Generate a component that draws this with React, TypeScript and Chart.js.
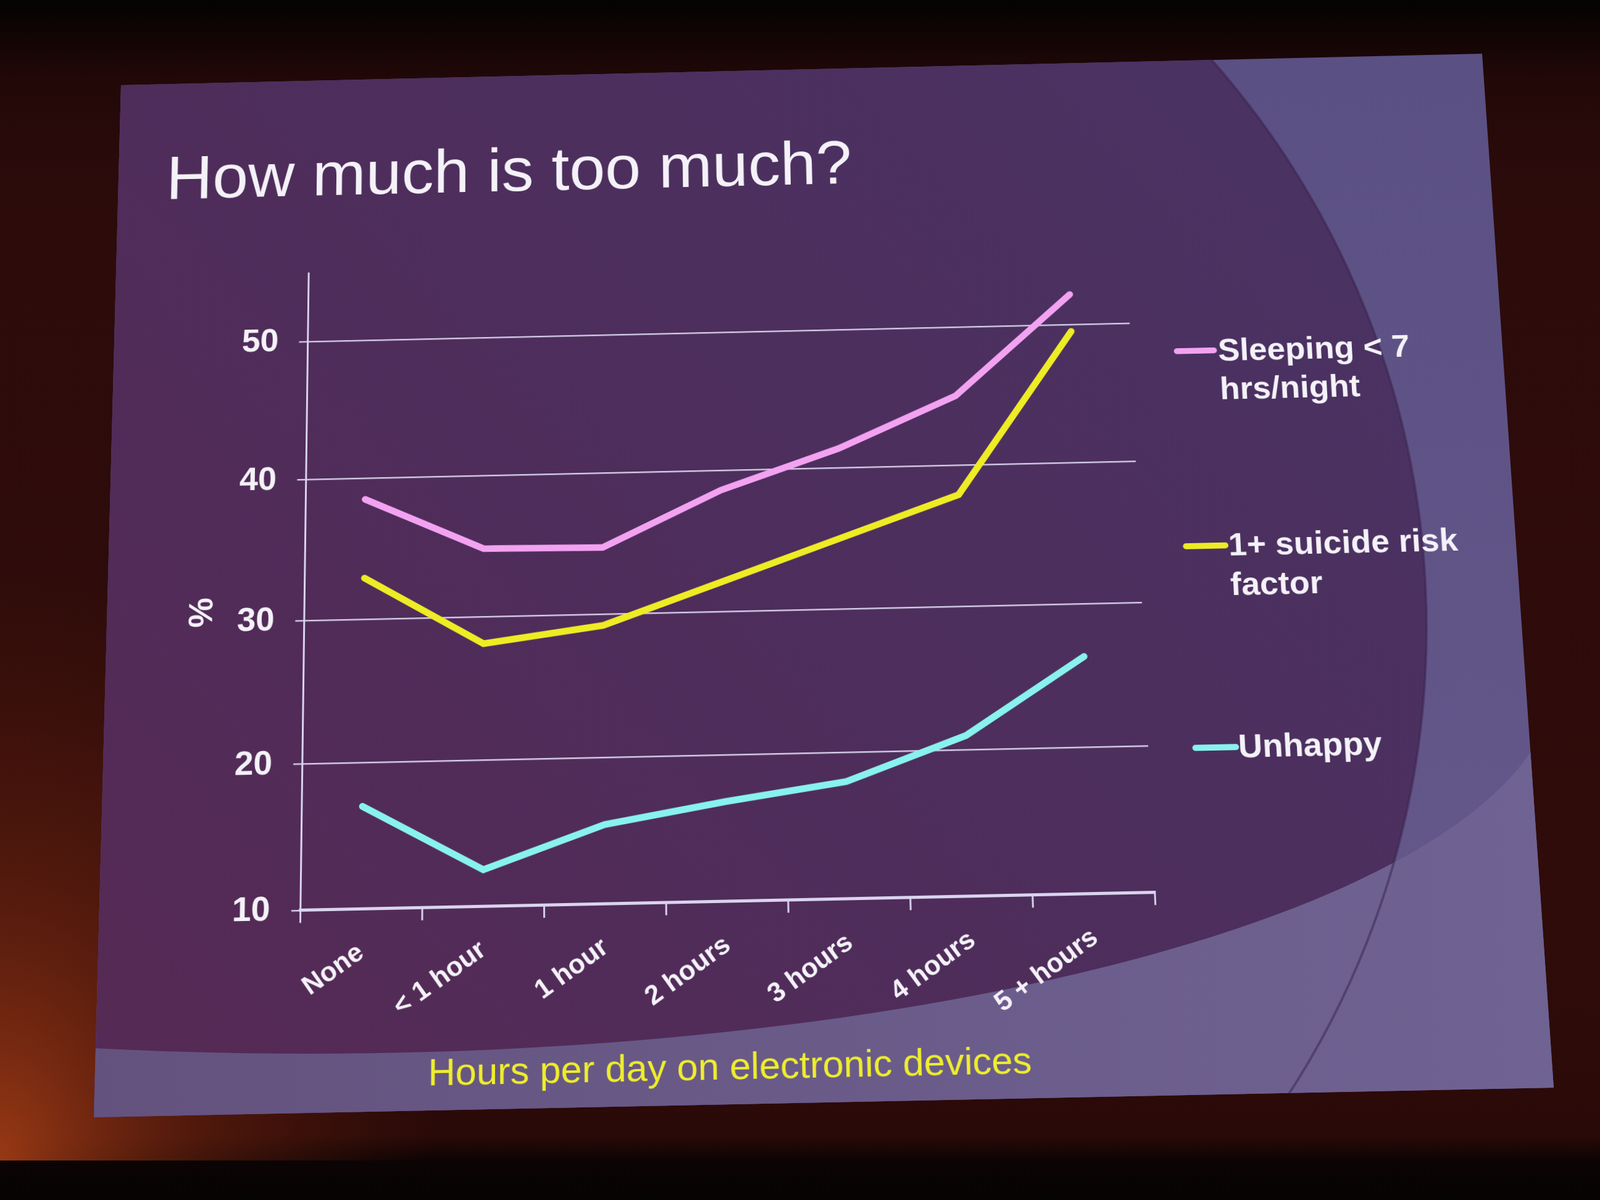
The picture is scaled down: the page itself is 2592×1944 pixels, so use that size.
import React, { useEffect, useRef } from 'react';
import { Chart, registerables } from 'chart.js';

Chart.register(...registerables);

// ---------- data ----------
const categories = ['None', '< 1 hour', '1 hour', '2 hours', '3 hours', '4 hours', '5 + hours'];
const sleepingValues = [38.5, 34.8, 34.7, 38.6, 41.4, 45.0, 52.2];
const suicideRiskValues = [32.9, 28.1, 29.2, 32.1, 35.0, 37.9, 49.5];
const unhappyValues = [17.0, 12.5, 15.4, 16.8, 18.0, 21.0, 26.3];
const yTickValues = [10, 20, 30, 40, 50];
const seriesNames = ['Sleeping < 7 hrs/night', '1+ suicide risk factor', 'Unhappy'];
const legendLines = [['Sleeping < 7', 'hrs/night'], ['1+ suicide risk', 'factor'], ['Unhappy']];
const titleText = 'How much is too much?';
const xTitleText = 'Hours per day on electronic devices';
const yTitleText = '%';

// ---------- styles / geometry ----------
const FONT = "'Liberation Sans', Arial, Helvetica, sans-serif";
const seriesColors = ['#f3a2f2', '#eeec24', '#88f2ee'];
const textWhite = '#f4f2f8';
const gridColor = '#d4cde8';

const PAGE_W = 2592;
const PAGE_H = 1944;
const FLAT_W = 2300;
const FLAT_H = 1725;

type Pt = [number, number];

// photographed slide corners (TL, TR, BR, BL)
const photoCorners: Pt[] = [[196, 138], [2401, 87], [2517, 1762], [152, 1810]];
const flatCorners: Pt[] = [[0, 0], [FLAT_W, 0], [FLAT_W, FLAT_H], [0, FLAT_H]];

function solveLinear(A: number[][], b: number[]): number[] {
  const n = b.length;
  const M = A.map((row, i) => [...row, b[i]]);
  for (let c = 0; c < n; c++) {
    let p = c;
    for (let r = c + 1; r < n; r++) if (Math.abs(M[r][c]) > Math.abs(M[p][c])) p = r;
    const tmp = M[c];
    M[c] = M[p];
    M[p] = tmp;
    for (let r = 0; r < n; r++) {
      if (r === c) continue;
      const f = M[r][c] / M[c][c];
      for (let k = c; k <= n; k++) M[r][k] -= f * M[c][k];
    }
  }
  return M.map((row, i) => row[n] / row[i]);
}

function homography(src: Pt[], dst: Pt[]): number[] {
  const A: number[][] = [];
  const b: number[] = [];
  for (let i = 0; i < 4; i++) {
    const [x, y] = src[i];
    const [u, v] = dst[i];
    A.push([x, y, 1, 0, 0, 0, -x * u, -y * u]);
    b.push(u);
    A.push([0, 0, 0, x, y, 1, -x * v, -y * v]);
    b.push(v);
  }
  return solveLinear(A, b);
}

function applyH(h: number[], x: number, y: number): Pt {
  const w = h[6] * x + h[7] * y + 1;
  return [(h[0] * x + h[1] * y + h[2]) / w, (h[3] * x + h[4] * y + h[5]) / w];
}

const H_FLAT_TO_PHOTO = homography(flatCorners, photoCorners);
const H_PHOTO_TO_FLAT = homography(photoCorners, flatCorners);
const toFlat = (x: number, y: number) => applyH(H_PHOTO_TO_FLAT, x, y);

const hm = H_FLAT_TO_PHOTO;
const matrix3d = `matrix3d(${hm[0]},${hm[3]},0,${hm[6]},${hm[1]},${hm[4]},0,${hm[7]},0,0,1,0,${hm[2]},${hm[5]},0,1)`;

// anchor points measured on the photograph (page px)
const axisOrigin = toFlat(487, 1481);
const axis50 = toFlat(498, 554);
const axisRightEnd = toFlat(1871, 1457);
const yTitleCenter = toFlat(325, 992);
const xTitleCenter = toFlat(1195, 1737);
const titleBaseLeft = toFlat(277, 322);

const Y_MIN = 10;
const Y_MAX = 55;
const areaLeft = axisOrigin[0];
const areaBottom = axisOrigin[1];
const pxPerUnit = (areaBottom - axis50[1]) / 40;
const areaTop = areaBottom - (Y_MAX - Y_MIN) * pxPerUnit;
const areaRight = axisRightEnd[0];

const Y_TITLE_SIZE = 56;
const yScaleLeft = yTitleCenter[0] - 40;
const yScaleWidth = areaLeft - yScaleLeft;

const X_TITLE_SIZE = 60;
const X_TITLE_PAD = 20;
const xScaleHeight = xTitleCenter[1] - areaBottom + (X_TITLE_SIZE * 1.2) / 2 + X_TITLE_PAD;
const padBottom = Math.max(0, FLAT_H - areaBottom - xScaleHeight);

const TITLE_SIZE = 108;
const LEGEND_SIZE = 54;
const LEGEND_LH = 66;

// legend anchors on the photograph: swatch start, swatch end, text baseline-left
const legendAnchors: { sw0: Pt; sw1: Pt; txt: Pt }[] = [
  { sw0: [1902, 569], sw1: [1972, 569], txt: [1976, 584] },
  { sw0: [1917, 885], sw1: [1990, 885], txt: [1993, 900] },
  { sw0: [1932, 1212], sw1: [2007, 1212], txt: [2009, 1227] },
];

function drawBackground(ctx: CanvasRenderingContext2D) {
  // surroundings of the projected slide
  const g = ctx.createLinearGradient(0, 0, 0, PAGE_H);
  g.addColorStop(0, '#040202');
  g.addColorStop(40 / PAGE_H, '#0d0404');
  g.addColorStop(130 / PAGE_H, '#230808');
  g.addColorStop(300 / PAGE_H, '#2c0b0b');
  g.addColorStop(1500 / PAGE_H, '#2f0c0a');
  g.addColorStop(1840 / PAGE_H, '#2a0a08');
  g.addColorStop(1880 / PAGE_H, '#0c0404');
  g.addColorStop(1, '#050303');
  ctx.fillStyle = g;
  ctx.fillRect(0, 0, PAGE_W, PAGE_H);

  ctx.save();
  ctx.translate(0, 1880);
  ctx.scale(1, 1.4);
  const glow = ctx.createRadialGradient(0, 0, 0, 0, 0, 700);
  glow.addColorStop(0, 'rgba(165,62,22,0.9)');
  glow.addColorStop(0.45, 'rgba(120,40,16,0.5)');
  glow.addColorStop(1, 'rgba(90,25,10,0)');
  ctx.fillStyle = glow;
  ctx.fillRect(0, -1400, 800, 1400);
  ctx.restore();

  // slide
  ctx.save();
  ctx.beginPath();
  photoCorners.forEach(([x, y], i) => (i === 0 ? ctx.moveTo(x, y) : ctx.lineTo(x, y)));
  ctx.closePath();
  ctx.clip();

  const base = ctx.createLinearGradient(0, 100, 0, 1800);
  base.addColorStop(0, '#5b5083');
  base.addColorStop(1, '#66598c');
  ctx.fillStyle = base;
  ctx.fillRect(0, 0, PAGE_W, PAGE_H);

  // dark main disc
  const dark = ctx.createLinearGradient(250, 1700, 1900, 150);
  dark.addColorStop(0, '#552a55');
  dark.addColorStop(0.5, '#4e2d5b');
  dark.addColorStop(1, '#4a3262');
  ctx.fillStyle = dark;
  ctx.beginPath();
  ctx.arc(921, 1017, 1390, 0, Math.PI * 2);
  ctx.fill();

  // lighter band at the bottom
  const cx = 500, cy = 1097, rx = 2020, ry = 610;
  const band = ctx.createLinearGradient(150, 0, 2520, 0);
  band.addColorStop(0, '#64527e');
  band.addColorStop(1, '#6f6393');
  ctx.fillStyle = band;
  ctx.beginPath();
  ctx.moveTo(cx - rx, cy);
  ctx.ellipse(cx, cy, rx, ry, 0, Math.PI, 0, true);
  ctx.lineTo(cx + rx, PAGE_H + 50);
  ctx.lineTo(cx - rx, PAGE_H + 50);
  ctx.closePath();
  ctx.fill();

  // faint arc edge
  ctx.strokeStyle = 'rgba(58,34,78,0.5)';
  ctx.lineWidth = 4;
  ctx.beginPath();
  ctx.arc(921, 1017, 1390, -Math.PI / 2, Math.PI / 2);
  ctx.stroke();
  ctx.restore();
}

export default function App() {
  const bgRef = useRef<HTMLCanvasElement | null>(null);
  const canvasRef = useRef<HTMLCanvasElement | null>(null);

  useEffect(() => {
    const bg = bgRef.current;
    if (bg) {
      const ctx = bg.getContext('2d');
      if (ctx) drawBackground(ctx);
    }
    const canvas = canvasRef.current;
    if (!canvas) return;
    const seriesData = [sleepingValues, suicideRiskValues, unhappyValues];
    const chart = new Chart(canvas, {
      type: 'line',
      data: {
        labels: categories,
        datasets: seriesData.map((d, i) => ({
          label: seriesNames[i],
          data: d,
          borderColor: seriesColors[i],
          backgroundColor: seriesColors[i],
          borderWidth: 11,
          pointRadius: 0,
          tension: 0,
          borderJoinStyle: 'miter' as const,
          borderCapStyle: 'round' as const,
          fill: false,
        })),
      },
      options: {
        animation: false,
        responsive: false,
        maintainAspectRatio: false,
        devicePixelRatio: 1,
        layout: {
          padding: {
            left: yScaleLeft,
            right: FLAT_W - areaRight,
            top: areaTop,
            bottom: padBottom,
          },
        },
        plugins: {
          legend: { display: false },
          tooltip: { enabled: false },
          title: { display: false },
        },
        scales: {
          x: {
            type: 'category',
            offset: true,
            grid: {
              display: true,
              drawOnChartArea: false,
              drawTicks: true,
              tickLength: 20,
              color: gridColor,
              lineWidth: 3,
              offset: true,
            },
            border: { display: true, color: '#dad4ef', width: 5 },
            ticks: {
              color: textWhite,
              font: { family: FONT, size: 43, weight: 'bold' },
              minRotation: 35,
              maxRotation: 35,
              padding: 24,
              autoSkip: false,
            },
            title: {
              display: true,
              text: xTitleText,
              color: '#eeee2c',
              font: { family: FONT, size: X_TITLE_SIZE, weight: 'normal' },
              padding: { top: 0, bottom: X_TITLE_PAD },
            },
            afterFit: (s: any) => {
              s.height = xScaleHeight;
            },
          },
          y: {
            type: 'linear',
            min: Y_MIN,
            max: Y_MAX,
            afterBuildTicks: (s: any) => {
              s.ticks = yTickValues.map((v) => ({ value: v }));
            },
            grid: {
              color: gridColor,
              lineWidth: 2.5,
              drawTicks: true,
              tickLength: 15,
            },
            border: { display: true, color: '#dad4ef', width: 3 },
            ticks: {
              color: textWhite,
              font: { family: FONT, size: 55, weight: 'bold' },
              padding: 34,
              stepSize: 10,
            },
            title: { display: false },
            afterFit: (s: any) => {
              s.width = yScaleWidth;
            },
          },
        },
      },
    });
    return () => {
      chart.destroy();
    };
  }, []);

  const titleTop = titleBaseLeft[1] - (TITLE_SIZE * (1 - 1.117) / 2 + TITLE_SIZE * 0.905);
  const legendBaseOffset = (LEGEND_LH - LEGEND_SIZE * 1.117) / 2 + LEGEND_SIZE * 0.905;

  return (
    <div
      style={{
        position: 'fixed',
        left: 0,
        top: 0,
        width: PAGE_W,
        height: PAGE_H,
        overflow: 'hidden',
        background: '#1a0606',
        fontFamily: FONT,
      }}
    >
      <canvas
        ref={bgRef}
        width={PAGE_W}
        height={PAGE_H}
        style={{ position: 'absolute', left: 0, top: 0, width: PAGE_W, height: PAGE_H }}
      />
      <div
        style={{
          position: 'absolute',
          left: 0,
          top: 0,
          width: FLAT_W,
          height: FLAT_H,
          transformOrigin: '0 0',
          transform: matrix3d,
        }}
      >
        <canvas
          ref={canvasRef}
          width={FLAT_W}
          height={FLAT_H}
          style={{ position: 'absolute', left: 0, top: 0, width: FLAT_W, height: FLAT_H }}
        />
        <div
          style={{
            position: 'absolute',
            left: titleBaseLeft[0] - TITLE_SIZE * 0.08,
            top: titleTop,
            fontSize: TITLE_SIZE,
            lineHeight: `${TITLE_SIZE}px`,
            color: textWhite,
            whiteSpace: 'nowrap',
            fontFamily: FONT,
          }}
        >
          {titleText}
        </div>
        <div
          style={{
            position: 'absolute',
            left: yTitleCenter[0] - 50,
            top: yTitleCenter[1] - 40,
            width: 100,
            height: 80,
            lineHeight: '80px',
            textAlign: 'center',
            fontSize: Y_TITLE_SIZE,
            fontWeight: 'bold',
            color: textWhite,
            transform: 'rotate(-90deg)',
            fontFamily: FONT,
          }}
        >
          {yTitleText}
        </div>
        {legendLines.map((lines, i) => {
          const a = legendAnchors[i];
          const s0 = toFlat(a.sw0[0], a.sw0[1]);
          const s1 = toFlat(a.sw1[0], a.sw1[1]);
          const t = toFlat(a.txt[0], a.txt[1]);
          return (
            <React.Fragment key={i}>
              <div
                style={{
                  position: 'absolute',
                  left: s0[0],
                  top: s0[1] - 5,
                  width: s1[0] - s0[0],
                  height: 10,
                  borderRadius: 5,
                  background: seriesColors[i],
                }}
              />
              <div
                style={{
                  position: 'absolute',
                  left: t[0] - LEGEND_SIZE * 0.04,
                  top: t[1] - legendBaseOffset,
                  fontSize: LEGEND_SIZE,
                  lineHeight: `${LEGEND_LH}px`,
                  fontWeight: 'bold',
                  color: textWhite,
                  whiteSpace: 'nowrap',
                  fontFamily: FONT,
                }}
              >
                {lines.map((l, j) => (
                  <div key={j}>{l}</div>
                ))}
              </div>
            </React.Fragment>
          );
        })}
      </div>
    </div>
  );
}
